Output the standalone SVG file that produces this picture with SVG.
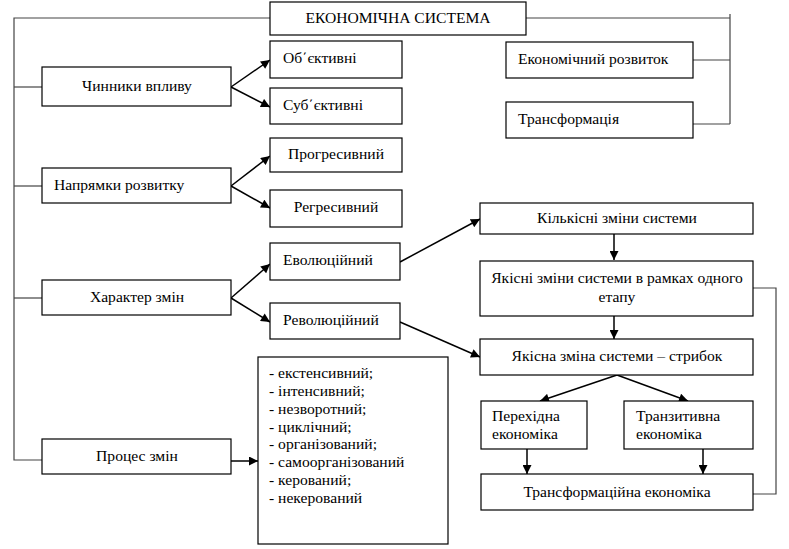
<svg xmlns="http://www.w3.org/2000/svg" width="789" height="549" viewBox="0 0 789 549">
<style>
.b{fill:#fff;stroke:#000;stroke-width:1.2}
.t{font-family:'Liberation Serif','Times New Roman','DejaVu Serif',serif;font-size:15.6px;fill:#000}
.c{text-anchor:middle}
.l{fill:none;stroke:#444;stroke-width:1.2}
.a{fill:none;stroke:#000;stroke-width:1.5;marker-end:url(#ah)}
</style>
<defs>
<marker id="ah" viewBox="0 0 10 10" refX="10" refY="5" markerWidth="10" markerHeight="9" markerUnits="userSpaceOnUse" orient="auto">
<path d="M0,0 L10,5 L0,10 Z" fill="#000"/>
</marker>
</defs>
<rect width="789" height="549" fill="#fff"/>
<g id="connectors">
<polyline class="l" points="270,18 14,18 14,460 42,460"/>
<line class="l" x1="14" y1="87" x2="42" y2="87"/>
<line class="l" x1="14" y1="186" x2="42" y2="186"/>
<line class="l" x1="14" y1="298" x2="42" y2="298"/>
<polyline class="l" points="526,18 730,18"/>
<line class="l" x1="730" y1="14" x2="730" y2="124"/>
<line class="l" x1="693" y1="60" x2="730" y2="60"/>
<line class="l" x1="693" y1="124" x2="730" y2="124"/>
<polyline class="l" points="753,288 776,288 776,494 753,494"/>
<line class="a" x1="231" y1="87" x2="270" y2="60"/>
<line class="a" x1="231" y1="87" x2="270" y2="107"/>
<line class="a" x1="231" y1="186" x2="270" y2="156"/>
<line class="a" x1="231" y1="186" x2="270" y2="208"/>
<line class="a" x1="231" y1="298" x2="270" y2="264"/>
<line class="a" x1="231" y1="298" x2="270" y2="322"/>
<line class="a" x1="231" y1="461" x2="258" y2="461"/>
<line class="a" x1="400" y1="262" x2="480" y2="219"/>
<line class="a" x1="400" y1="322" x2="480" y2="357"/>
<line class="a" x1="614" y1="234" x2="614" y2="260"/>
<line class="a" x1="614" y1="316" x2="614" y2="339"/>
<line class="a" x1="617" y1="375" x2="540" y2="401"/>
<line class="a" x1="617" y1="375" x2="688" y2="401"/>
<line class="a" x1="527" y1="449" x2="527" y2="474"/>
<line class="a" x1="703" y1="449" x2="703" y2="474"/>
</g>
<g id="n-system"><rect class="b" x="270" y="2" width="256" height="33"/><text class="t c" x="398" y="23">ЕКОНОМІЧНА СИСТЕМА</text></g>
<g id="n-rozvytok"><rect class="b" x="506" y="42" width="187" height="36"/><text class="t" x="518" y="64">Економічний розвиток</text></g>
<g id="n-transformatsiia"><rect class="b" x="506" y="102" width="187" height="36"/><text class="t" x="518" y="124">Трансформація</text></g>
<g id="n-chynnyky"><rect class="b" x="42" y="67" width="189" height="39"/><text class="t c" x="137" y="91">Чинники впливу</text></g>
<g id="n-obiektyvni"><rect class="b" x="270" y="41" width="132" height="37"/><text class="t" x="283" y="63">Об΄єктивні</text></g>
<g id="n-subiektyvni"><rect class="b" x="270" y="88" width="132" height="36"/><text class="t" x="283" y="110">Суб΄єктивні</text></g>
<g id="n-napriamky"><rect class="b" x="42" y="168" width="189" height="35"/><text class="t" x="54" y="190">Напрямки розвитку</text></g>
<g id="n-progres"><rect class="b" x="270" y="138" width="132" height="34"/><text class="t c" x="336" y="159">Прогресивний</text></g>
<g id="n-regres"><rect class="b" x="270" y="190" width="132" height="37"/><text class="t c" x="336" y="212">Регресивний</text></g>
<g id="n-kharakter"><rect class="b" x="42" y="280" width="189" height="35"/><text class="t c" x="137" y="302">Характер змін</text></g>
<g id="n-evol"><rect class="b" x="270" y="243" width="130" height="37"/><text class="t" x="283" y="265">Еволюційний</text></g>
<g id="n-revol"><rect class="b" x="270" y="303" width="130" height="36"/><text class="t" x="283" y="325">Революційний</text></g>
<g id="n-protses"><rect class="b" x="42" y="439" width="189" height="35"/><text class="t c" x="137" y="461">Процес змін</text></g>
<g id="n-list"><rect class="b" x="258" y="357" width="190" height="187"/>
<text class="t" x="269" y="378">- екстенсивний;</text>
<text class="t" x="269" y="396">- інтенсивний;</text>
<text class="t" x="269" y="414">- незворотний;</text>
<text class="t" x="269" y="432">- циклічний;</text>
<text class="t" x="269" y="449">- організований;</text>
<text class="t" x="269" y="467">- самоорганізований</text>
<text class="t" x="269" y="485">- керований;</text>
<text class="t" x="269" y="503">- некерований</text>
</g>
<g id="n-kilkisni"><rect class="b" x="480" y="203" width="273" height="31"/><text class="t c" x="617" y="223">Кількісні зміни системи</text></g>
<g id="n-yakisni"><rect class="b" x="480" y="261" width="273" height="55"/><text class="t c" x="617" y="283">Якісні зміни системи в рамках одного</text><text class="t c" x="617" y="302">етапу</text></g>
<g id="n-strybok"><rect class="b" x="480" y="339" width="273" height="36"/><text class="t c" x="617" y="361">Якісна зміна системи – стрибок</text></g>
<g id="n-perekhidna"><rect class="b" x="481" y="401" width="106" height="48"/><text class="t" x="492" y="421">Перехідна</text><text class="t" x="492" y="439">економіка</text></g>
<g id="n-tranzytyvna"><rect class="b" x="624" y="401" width="129" height="48"/><text class="t" x="636" y="421">Транзитивна</text><text class="t" x="636" y="439">економіка</text></g>
<g id="n-transf-ek"><rect class="b" x="481" y="474" width="272" height="36"/><text class="t c" x="617" y="497">Трансформаційна економіка</text></g>
</svg>
